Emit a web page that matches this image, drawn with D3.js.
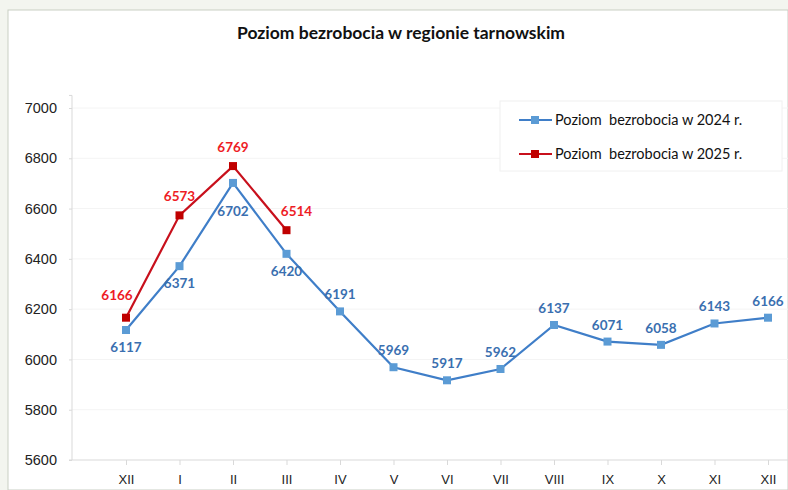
<!DOCTYPE html>
<html>
<head>
<meta charset="utf-8">
<script src="https://d3js.org/d3.v7.min.js"></script>
<style>
  body { margin: 0; padding: 0; background: #f3f5ef; }
  svg { display: block; font-family: Lato, "Open Sans", sans-serif; }
</style>
</head>
<body>
<script>
var months = ["XII", "I", "II", "III", "IV", "V", "VI", "VII", "VIII", "IX", "X", "XI", "XII"];
var values2024 = [6117, 6371, 6702, 6420, 6191, 5969, 5917, 5962, 6137, 6071, 6058, 6143, 6166];
var values2025 = [6166, 6573, 6769, 6514];
var yTicks = [5600, 5800, 6000, 6200, 6400, 6600, 6800, 7000];
var seriesNames = ["Poziom  bezrobocia w 2024 r.", "Poziom  bezrobocia w 2025 r."];

var width = 788, height = 490;
var blue = "#3f7ec8", blueMark = "#5b9bd5", blueText = "#3a6fb0";
var red = "#c8101c", redMark = "#c00000", redText = "#ee1c25";

var svg = d3.select("body").append("svg")
    .attr("width", width)
    .attr("height", height);

// white chart panel
svg.append("rect")
    .attr("x", 8).attr("y", 10)
    .attr("width", width - 8).attr("height", height - 10)
    .attr("fill", "#fff")
    .attr("stroke", "#c9cfc4").attr("stroke-width", 1);

var x = d3.scalePoint()
    .domain(d3.range(months.length))
    .range([126, 768]);

var y = d3.scaleLinear()
    .domain([5600, 7000])
    .range([460, 108]);

// faint grid
svg.append("g").selectAll("line")
    .data(yTicks.slice(1))
  .enter().append("line")
    .attr("x1", 72).attr("x2", width)
    .attr("y1", function(d) { return y(d); })
    .attr("y2", function(d) { return y(d); })
    .attr("stroke", "#f4f4f4");

// y axis
var yAxis = svg.append("g")
    .attr("transform", "translate(72,0)")
    .call(d3.axisLeft(y).tickValues(yTicks).tickSize(3).tickPadding(12).tickFormat(d3.format("d")));
yAxis.select(".domain").attr("stroke", "#d9d9d9").attr("d", "M-3," + y(7050) + "H0V" + y(5600) + "H-3");
yAxis.selectAll(".tick line").attr("stroke", "#d9d9d9");
yAxis.selectAll("text").attr("fill", "#222").style("font-size", "14.5px");

// x axis
var xAxis = svg.append("g")
    .attr("transform", "translate(0," + y(5600) + ")")
    .call(d3.axisBottom(x).tickSize(5).tickPadding(10).tickFormat(function(i) { return months[i]; }));
xAxis.select(".domain").attr("stroke", "#d9d9d9").attr("d", "M72,0H" + width);
xAxis.selectAll(".tick line").attr("stroke", "#d9d9d9");
xAxis.selectAll("text").attr("fill", "#222").style("font-size", "13px");

// title
svg.append("text")
    .attr("x", 401).attr("y", 39)
    .attr("text-anchor", "middle")
    .style("font-size", "17.5px").style("font-weight", "bold")
    .attr("fill", "#111")
    .text("Poziom bezrobocia w regionie tarnowskim");

var line = d3.line()
    .x(function(d, i) { return x(i); })
    .y(function(d) { return y(d); });

function drawSeries(data, lineColor, markColor) {
  svg.append("path")
      .datum(data)
      .attr("fill", "none")
      .attr("stroke", lineColor)
      .attr("stroke-width", 2.2)
      .attr("d", line);
  svg.append("g").selectAll("rect")
      .data(data)
    .enter().append("rect")
      .attr("x", function(d, i) { return x(i) - 4; })
      .attr("y", function(d) { return y(d) - 4; })
      .attr("width", 8).attr("height", 8)
      .attr("fill", markColor);
}

drawSeries(values2024, blue, blueMark);
drawSeries(values2025, red, redMark);

// labels 2024: below where 2025 overlaps, above otherwise
svg.append("g").selectAll("text")
    .data(values2024)
  .enter().append("text")
    .attr("x", function(d, i) { return x(i); })
    .attr("y", function(d, i) {
      if (i < values2025.length) return y(d) + (i === 2 ? 33 : 22);
      return y(d) - 12;
    })
    .attr("text-anchor", "middle")
    .style("font-size", "13.5px").style("font-weight", "bold")
    .attr("fill", blueText)
    .text(function(d) { return d; });

svg.append("g").selectAll("text")
    .data(values2025)
  .enter().append("text")
    .attr("x", function(d, i) {
      if (i === 0) return x(i) - 9;
      return x(i) + (i === values2025.length - 1 ? 10 : 0);
    })
    .attr("y", function(d, i) { return y(d) - (i === 0 ? 18 : 14); })
    .attr("text-anchor", "middle")
    .style("font-size", "13.5px").style("font-weight", "bold")
    .attr("fill", redText)
    .text(function(d) { return d; });

// legend
var legend = svg.append("g");
legend.append("rect")
    .attr("x", 500).attr("y", 101)
    .attr("width", 282).attr("height", 70)
    .attr("fill", "#fff").attr("stroke", "#f0f0f0");
var items = [
  {name: seriesNames[0], line: blue, mark: blueMark},
  {name: seriesNames[1], line: red, mark: redMark}
];
items.forEach(function(it, k) {
  var ly = 120 + k * 34;
  legend.append("line")
      .attr("x1", 519).attr("x2", 552)
      .attr("y1", ly).attr("y2", ly)
      .attr("stroke", it.line).attr("stroke-width", 2.2);
  legend.append("rect")
      .attr("x", 531).attr("y", ly - 4)
      .attr("width", 8).attr("height", 8)
      .attr("fill", it.mark);
  legend.append("text")
      .attr("x", 555).attr("y", ly + 5)
      .style("font-size", "14.5px")
      .style("white-space", "pre")
      .attr("fill", "#111")
      .text(it.name);
});
</script>
</body>
</html>
